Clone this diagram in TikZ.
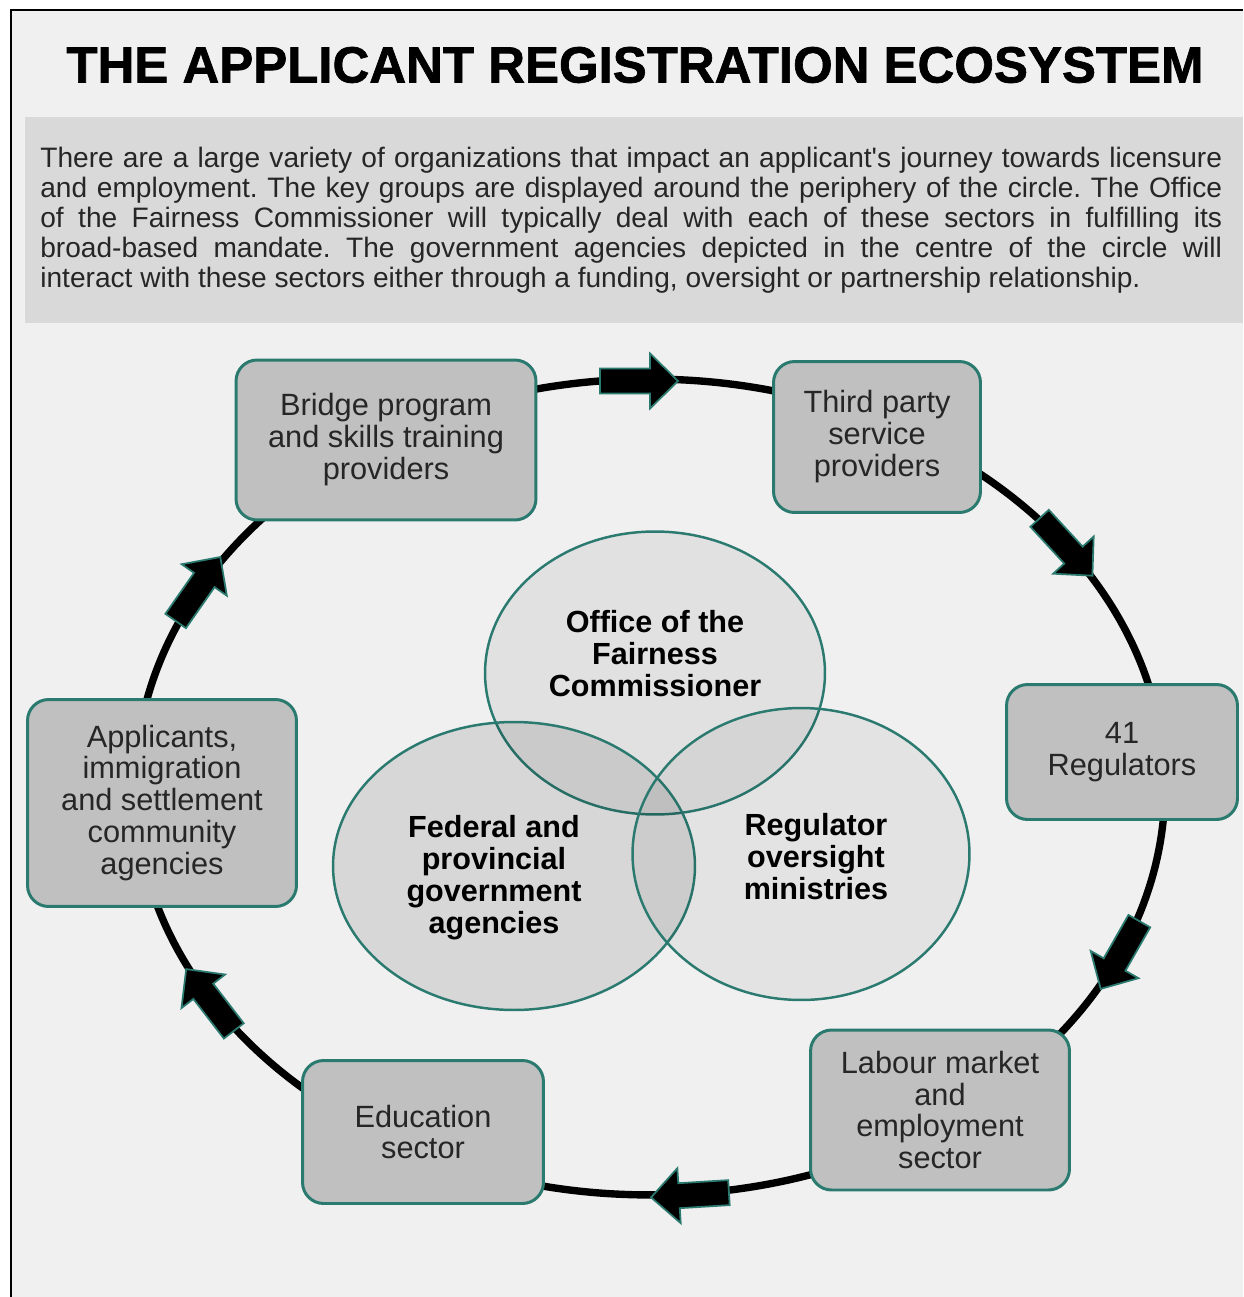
\documentclass[tikz,border=0pt]{standalone}
\usepackage{fontspec}
\setmainfont{Liberation Sans}
\newfontfamily\heavyfont[FakeBold=1.3]{Liberation Sans Bold}
\usetikzlibrary{shapes.geometric}

\definecolor{pagegray}{RGB}{240,240,240}
\definecolor{panelgray}{RGB}{217,217,217}
\definecolor{boxgray}{RGB}{192,192,192}
\definecolor{textgray}{RGB}{38,38,38}
\definecolor{ringteal}{RGB}{43,122,112}

\begin{document}
\begin{tikzpicture}[x=0.02cm, y=-0.02cm,
    sector/.style={draw=ringteal, line width=1.7pt, fill=boxgray, rounded corners=12pt,
        align=center, text=textgray, inner sep=0pt, font=\fontsize{17.5}{18.2}\selectfont},
    group/.style={ellipse, draw=ringteal, line width=1.4pt, fill=black, inner sep=0pt},
    grouplabel/.style={align=center, font=\bfseries\fontsize{17.4}{18.2}\selectfont},
    flow/.style={draw=ringteal, line width=1pt, fill=black, line join=miter}]

    \useasboundingbox (0,0) rectangle (1243,1297);

    % page with the frame on the left and top
    \fill[white] (0,0) rectangle (1243,1297);
    \fill[pagegray] (11,10) rectangle (1243,1297);
    \draw[line width=1.7pt] (11,1297) -- (11,10) -- (1243,10);

    % title
    \node (title) at (635,65) {\fontsize{29}{30}\selectfont\heavyfont THE APPLICANT REGISTRATION ECOSYSTEM};

    % intro panel
    \fill[panelgray] (25,117) rectangle (1243,323);
    \node[anchor=base west, text width=23.64cm, align=justify, inner sep=0pt, text=textgray,
        font=\fontsize{16}{17}\selectfont] (intro) at (40,168)
        {\frenchspacing\hyphenpenalty=10000 \exhyphenpenalty=10000
        There are a large variety of organizations that impact an applicant\textquotesingle s journey towards licensure\linebreak
        and employment. The key groups are displayed around the periphery of the circle. The Office\linebreak
        of the Fairness Commissioner will typically deal with each of these sectors in fulfilling its\linebreak
        broad-based mandate. The government agencies depicted in the centre of the circle will\linebreak
        interact with these sectors either through a funding, oversight or partnership relationship.};

    % the ring
    \coordinate (hub) at (650,787);
    \draw[line width=4.2pt] (hub) ellipse [x radius=10.3cm, y radius=8.16cm];

    % block arrows on the ring, clockwise
    \foreach \ax/\ay/\ang in {639/381/0, 1066/547/-47.4, 1120/955/-119.7,
                              690/1195/183.5, 210/1000/127.6, 198/589/55.1} {
        \draw[flow, shift={(\ax,\ay)}, rotate=\ang]
            (-39,-12.5) -- (11,-12.5) -- (11,-27.5) -- (39,0) -- (11,27.5) -- (11,12.5) -- (-39,12.5) -- cycle;
    }

    % sectors around the ring
    \node[sector, minimum width=6cm, minimum height=3.2cm] (bridge) at (386,440)
        {Bridge program\\and skills training\\providers};
    \node[sector, minimum width=4.14cm, minimum height=3.02cm] (thirdparty) at (877,437)
        {Third party\\service\\providers};
    \node[sector, minimum width=4.62cm, minimum height=2.7cm] (regulators) at (1122,752)
        {41\\Regulators};
    \node[sector, minimum width=5.18cm, minimum height=3.2cm] (labour) at (940,1110)
        {Labour market\\and\\employment\\sector};
    \node[sector, minimum width=4.82cm, minimum height=2.86cm] (education) at (423,1132)
        {Education\\sector};
    \node[sector, minimum width=5.38cm, minimum height=4.14cm] (applicants) at (162,803)
        {Applicants,\\immigration\\and settlement\\community\\agencies};

    % government agencies in the centre
    \node[group, fill opacity=0.06, minimum width=6.8cm, minimum height=5.66cm] (office) at (655,673) {};
    \node[group, fill opacity=0.1, minimum width=7.24cm, minimum height=5.76cm] (federal) at (514,866) {};
    \node[group, fill opacity=0.05, minimum width=6.74cm, minimum height=5.84cm] (ministries) at (801,854) {};

    \node[grouplabel] (officetext) at (655,654) {Office of the\\Fairness\\Commissioner};
    \node[grouplabel] (federaltext) at (494,878) {Federal and\\provincial\\government\\agencies};
    \node[grouplabel] (ministriestext) at (816,857) {Regulator\\oversight\\ministries};

\end{tikzpicture}
\end{document}
